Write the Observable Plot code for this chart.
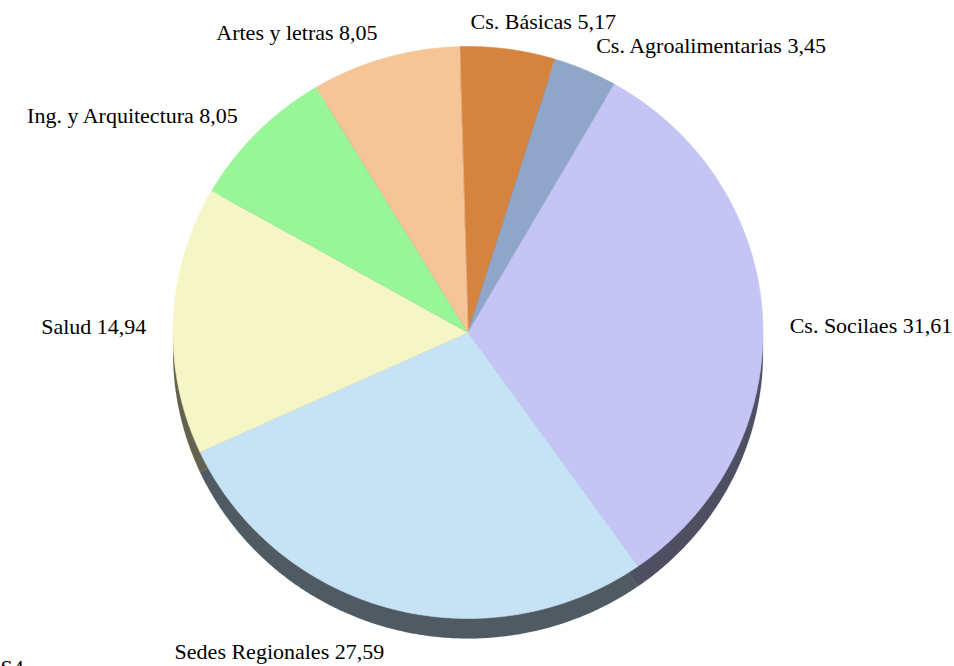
<!DOCTYPE html>
<html><head><meta charset="utf-8">
<script src="https://cdn.jsdelivr.net/npm/d3@7"></script>
<script src="https://cdn.jsdelivr.net/npm/@observablehq/plot@0.6"></script>
<style>html,body{margin:0;padding:0;background:#fff;} svg{display:block;}</style>
</head><body><div id="chart"></div>
<script>
// ---- data ----
const categories = ["Cs. Básicas","Cs. Agroalimentarias","Cs. Socilaes","Sedes Regionales","Salud","Ing. y Arquitectura","Artes y letras"];
const values = [5.17, 3.45, 31.61, 27.59, 14.94, 8.05, 8.05];
const valueLabels = ["5,17","3,45","31,61","27,59","14,94","8,05","8,05"];
const colors = ["#D4843F","#8FA6C9","#C5C5F5","#C6E2F5","#F5F5C6","#98F598","#F5C598"];
const footnote = "S4";

// ---- layout ----
const W = 954, H = 666;
const cx = 467.5, cy = 332, rx = 295, ry = 286, depth = 20;
const labelCy = 341, labelR = 322;
const labelNudge = {"Cs. Básicas": -41};
const startAngle = -1.65 * Math.PI / 180;

const arcs = d3.pie().sort(null).startAngle(startAngle).endAngle(startAngle + 2 * Math.PI)(values);

function pt(a, dy) { return [cx + rx * Math.sin(a), cy - ry * Math.cos(a) + dy]; }
function sliceFeature(arc, dy) {
  const n = Math.max(6, Math.ceil((arc.endAngle - arc.startAngle) * 180 / Math.PI * 2));
  const ring = [[cx, cy + dy]];
  for (let i = 0; i <= n; i++) ring.push(pt(arc.startAngle + (arc.endAngle - arc.startAngle) * i / n, dy));
  ring.push([cx, cy + dy]);
  return {type: "Feature", properties: {name: categories[arc.index]}, geometry: {type: "Polygon", coordinates: [ring]}};
}
const topFaces = arcs.map(a => sliceFeature(a, 0));
const sideFaces = arcs.map(a => sliceFeature(a, depth));

const labels = arcs.map(a => {
  const m = (a.startAngle + a.endAngle) / 2;
  const name = categories[a.index];
  return {
    name,
    text: name + " " + valueLabels[a.index],
    x: cx + labelR * Math.sin(m) + (labelNudge[name] || 0),
    y: labelCy - labelR * Math.cos(m),
    side: Math.sin(m) >= 0 ? "start" : "end"
  };
});

const font = {fontSize: 22, fontFamily: "'Liberation Serif','Times New Roman',serif", fill: "#000"};

const chart = Plot.plot({
  width: W, height: H, margin: 0,
  projection: {type: "identity"},
  color: {domain: categories, range: colors},
  style: {background: "#fff", overflow: "hidden"},
  marks: [
    Plot.geo(sideFaces, {fill: d => d.properties.name, stroke: d => d.properties.name, strokeWidth: 0.5}),
    Plot.geo(sideFaces, {fill: "#000", fillOpacity: 0.6}),
    Plot.geo(topFaces, {fill: d => d.properties.name, stroke: d => d.properties.name, strokeWidth: 0.6}),
    Plot.text(labels.filter(d => d.side === "start"), {x: "x", y: "y", text: "text", textAnchor: "start", ...font}),
    Plot.text(labels.filter(d => d.side === "end"), {x: "x", y: "y", text: "text", textAnchor: "end", ...font}),
    Plot.text([footnote], {frameAnchor: "bottom-left", text: d => d, textAnchor: "start", lineAnchor: "top", dy: -7, ...font})
  ]
});
document.getElementById("chart").append(chart);
</script>
</body></html>
